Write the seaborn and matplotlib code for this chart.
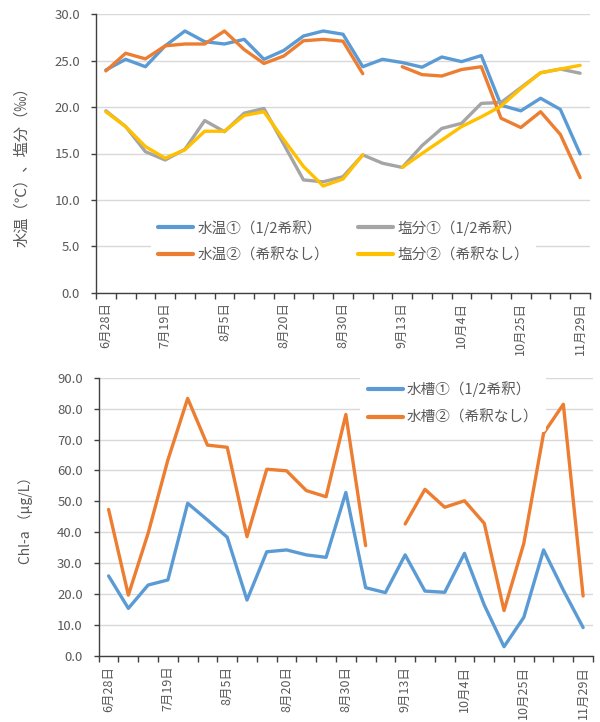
import numpy as np
import pandas as pd
import matplotlib
matplotlib.use("Agg")
import matplotlib.pyplot as plt
from matplotlib.lines import Line2D
import seaborn as sns

# Sampling dates shown on the category axis (every third sample is labelled)
shown_dates = ["6月28日", "7月19日", "8月5日", "8月20日", "8月30日",
               "9月13日", "10月4日", "10月25日", "11月29日"]
label_every = 3
n_samples = 25

nan = np.nan
# Water temperature (°C)
temp_tank1 = [24.0, 25.15, 24.35, 26.6, 28.2, 27.05, 26.8, 27.3, 25.15, 26.1,
              27.66, 28.2, 27.85, 24.35, 25.15, 24.8, 24.3, 25.4, 24.9, 25.55,
              20.2, 19.6, 20.95, 19.75, 14.95]
temp_tank2 = [23.9, 25.8, 25.2, 26.6, 26.8, 26.8, 28.2, 26.2, 24.7, 25.5,
              27.15, 27.3, 27.1, 23.6, nan, 24.35, 23.5, 23.35, 24.05, 24.35,
              18.8, 17.8, 19.5, 17.05, 12.4]
# Salinity (‰)
sal_tank1 = [19.6, 17.9, 15.2, 14.3, 15.45, 18.55, 17.35, 19.35, 19.85, 16.0,
             12.15, 11.95, 12.5, 14.85, 13.95, 13.5, 15.85, 17.7, 18.25, 20.4,
             20.5, 22.1, 23.7, 24.1, 23.65]
sal_tank2 = [19.5, 17.9, 15.75, 14.5, 15.4, 17.4, 17.4, 19.1, 19.5, 16.5,
             13.6, 11.5, 12.25, 14.85, nan, 13.5, 15.0, 16.45, 17.9, 18.95,
             20.1, 22.0, 23.7, 24.1, 24.5]
# Chlorophyll-a (µg/L)
chl_tank1 = [25.9, 15.4, 22.95, 24.6, 49.4, 44.0, 38.4, 18.1, 33.7, 34.3,
             32.7, 31.9, 52.9, 22.1, 20.5, 32.7, 21.0, 20.6, 33.2, 16.5,
             3.0, 12.5, 34.3, 21.3, 9.2]
chl_tank2 = [47.4, 19.7, 39.7, 63.4, 83.3, 68.2, 67.5, 38.6, 60.4, 59.9,
             53.5, 51.5, 78.1, 35.7, nan, 42.7, 53.9, 48.1, 50.2, 42.9,
             14.7, 36.4, 72.0, 81.4, 19.4]

BLUE, ORANGE, GRAY, YELLOW = "#5B9BD5", "#ED7D31", "#A5A5A5", "#FFC000"
TXT = "#595959"
AXC = "#404040"

sns.set_theme(style="white")
plt.rcParams["font.family"] = ["Noto Sans CJK JP", "DejaVu Sans"]

fig = plt.figure(figsize=(6.0, 7.22), dpi=100)
ax1 = fig.add_axes([96 / 600, 1 - 292.7 / 722, 494 / 600, 278.4 / 722])
ax2 = fig.add_axes([98.7 / 600, 1 - 656 / 722, 494.3 / 600, 278.3 / 722])

x = np.arange(n_samples)


def draw_series(ax, values, color, label):
    """Draw a series with gaps where samples are missing."""
    df = pd.DataFrame({"x": x, "y": values})
    df["run"] = df["y"].isna().cumsum()
    df = df.dropna()
    for _, seg in df.groupby("run"):
        sns.lineplot(data=seg, x="x", y="y", ax=ax, color=color, lw=2.4,
                     estimator=None, sort=False, legend=False)
    return Line2D([0], [0], color=color, lw=3.0, label=label)


def style_axis(ax, ymax, ystep):
    ax.set_xlim(-0.5, n_samples - 0.5)
    ax.set_ylim(0, ymax)
    ax.set_yticks(np.arange(0, ymax + 0.01, ystep))
    ax.set_yticklabels([f"{v:.1f}" for v in np.arange(0, ymax + 0.01, ystep)])
    ax.set_xticks(np.arange(0, n_samples, label_every))
    ax.set_xticklabels(shown_dates, rotation=90, va="top", ha="center")
    ax.set_xticks(np.arange(-0.5, n_samples, 1), minor=True)
    ax.tick_params(axis="x", which="major", length=0, pad=7,
                   labelsize=9, labelcolor=TXT)
    ax.tick_params(axis="x", which="minor", length=4.5, width=1, color=AXC,
                   direction="out", bottom=True)
    ax.tick_params(axis="y", which="major", length=3.5, width=1, color=AXC,
                   direction="out", left=True, pad=8, labelsize=9.5,
                   labelcolor=TXT)
    ax.yaxis.grid(True, color="#D9D9D9", lw=1)
    ax.xaxis.grid(False)
    ax.set_axisbelow(True)
    for s in ("top", "right"):
        ax.spines[s].set_visible(False)
    for s in ("left", "bottom"):
        ax.spines[s].set_color(AXC)
        ax.spines[s].set_linewidth(1)
    ax.set_xlabel("")


# Upper panel: water temperature and salinity
h_t1 = draw_series(ax1, temp_tank1, BLUE, "水温①（1/2希釈）")
h_s1 = draw_series(ax1, sal_tank1, GRAY, "塩分①（1/2希釈）")
h_t2 = draw_series(ax1, temp_tank2, ORANGE, "水温②（希釈なし）")
h_s2 = draw_series(ax1, sal_tank2, YELLOW, "塩分②（希釈なし）")
style_axis(ax1, 30, 5)
ax1.set_ylabel("水温（℃）、塩分（‰）", fontsize=11, color=TXT)
ax1.yaxis.set_label_coords(-0.134, 0.466)
leg1 = ax1.legend(handles=[h_t1, h_t2, h_s1, h_s2], ncol=2,
                  loc="center", bbox_to_anchor=(343.5 / 600, 1 - 241 / 722),
                  bbox_transform=fig.transFigure, frameon=True,
                  facecolor="white", edgecolor="none", framealpha=1,
                  fontsize=10.5, handlelength=2.4, handletextpad=0.3,
                  columnspacing=2.0, labelspacing=0.85, borderpad=0.5)
for t in leg1.get_texts():
    t.set_color(TXT)

# Lower panel: chlorophyll-a
h_c1 = draw_series(ax2, chl_tank1, BLUE, "水槽①（1/2希釈）")
h_c2 = draw_series(ax2, chl_tank2, ORANGE, "水槽②（希釈なし）")
style_axis(ax2, 90, 10)
ax2.set_ylabel("Chl-a （μg/L）", fontsize=10, color=TXT)
ax2.yaxis.set_label_coords(-0.133, 0.5)
leg2 = ax2.legend(handles=[h_c1, h_c2], ncol=1,
                  loc="center", bbox_to_anchor=(453 / 600, 1 - 403 / 722),
                  bbox_transform=fig.transFigure, frameon=True,
                  facecolor="white", edgecolor="none", framealpha=1,
                  fontsize=10.5, handlelength=2.4, handletextpad=0.3,
                  labelspacing=0.95, borderpad=0.5)
for t in leg2.get_texts():
    t.set_color(TXT)

fig.savefig("out.png", dpi=100)
